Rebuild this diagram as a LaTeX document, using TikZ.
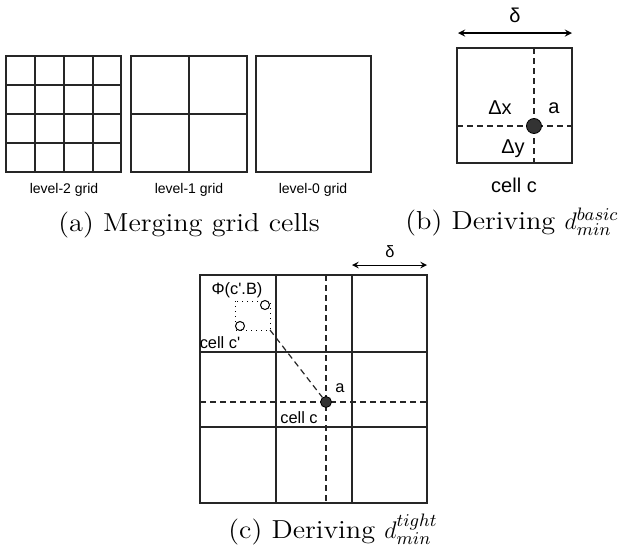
\documentclass[tikz,border=0pt]{standalone}
\usepackage{fontspec}
\newfontfamily\lblfont{Liberation Sans}
\newfontfamily\capfont[FakeStretch=1.09]{Latin Modern Roman}
\usetikzlibrary{calc}

\tikzset{
    gridline/.style={draw=black!85, line width=0.6pt},
    splitline/.style={draw=black!85, line width=0.6pt, dash pattern=on 3pt off 2pt},
    pointdot/.style={circle, fill=black!80, draw=black, inner sep=0pt},
    hollowdot/.style={circle, fill=white, draw=black, line width=0.5pt, inner sep=0pt, minimum size=4.5pt},
    caption/.style={font=\capfont\fontsize{13}{15}\selectfont, anchor=base west, inner sep=0pt},
    smalllbl/.style={font=\lblfont\fontsize{7}{8}\selectfont},
    midlbl/.style={font=\lblfont\fontsize{10}{12}\selectfont},
    celllbl/.style={font=\lblfont\fontsize{8.2}{10}\selectfont, inner sep=1pt}
}

\begin{document}
\begin{tikzpicture}[x=0.5pt,y=-0.5pt,>=stealth]
            \useasboundingbox (0,0) rectangle (622,552);

            % (a) level-2, level-1, level-0 grids
            \draw[gridline] (6,56) rectangle (121,172);
            \foreach \gx in {35,64,93}
                \draw[gridline] (\gx,56) -- (\gx,172);
            \foreach \gy in {85,114,143}
                \draw[gridline] (6,\gy) -- (121,\gy);

            \draw[gridline] (131,56) rectangle (247,172);
            \draw[gridline] (189,56) -- (189,172);
            \draw[gridline] (131,114) -- (247,114);

            \draw[gridline] (256,56) rectangle (371,172);

            \node[smalllbl] (lvl2) at (64,190) {level-2 grid};
            \node[smalllbl] (lvl1) at (189,190) {level-1 grid};
            \node[smalllbl] (lvl0) at (313,190) {level-0 grid};

            \node[caption] (capa) at (58,231) {(a) Merging grid cells};

            % (b) one cell with point a
            \draw[gridline] (457,48) rectangle (572,163);
            \coordinate (bT) at (534,48);
            \coordinate (bB) at (534,163);
            \coordinate (bL) at (457,126);
            \coordinate (bR) at (572,126);
            \draw[splitline] (bT) -- (bB);
            \draw[splitline] (bL) -- (bR);
            \node[pointdot, minimum size=7.5pt] (ptb) at (534,126) {};

            \coordinate (dbL) at (458,33);
            \coordinate (dbR) at (572,33);
            \draw[<->, line width=0.6pt] (dbL) -- (dbR);
            \node[midlbl] (deltab) at (515,15) {δ};
            \node[midlbl] (dxb) at (500,108) {Δx};
            \node[midlbl] (ab) at (554,108) {a};
            \node[midlbl] (dyb) at (513,149) {Δy};
            \node[midlbl] (cellb) at (514,185) {cell c};

            \node[caption] (capb) at (405,229) {(b) Deriving $d^{basic}_{min}$};

            % (c) neighbourhood of cell c
            \draw[gridline] (200,275) rectangle (427,503);
            \foreach \gx in {276,352}
                \draw[gridline] (\gx,275) -- (\gx,503);
            \foreach \gy in {352,427}
                \draw[gridline] (200,\gy) -- (427,\gy);

            \coordinate (cT) at (326,275);
            \coordinate (cB) at (326,503);
            \coordinate (cL) at (200,402);
            \coordinate (cR) at (427,402);
            \draw[splitline] (cT) -- (cB);
            \draw[splitline] (cL) -- (cR);

            \draw[black, line width=0.5pt, dotted] (235,301) rectangle (270,330);
            \coordinate (boxcorner) at (270,330);
            \node[hollowdot] (bp1) at (265,305) {};
            \node[hollowdot] (bp2) at (240,326) {};

            \node[pointdot, minimum size=5.5pt] (ptc) at (326,402) {};
            \draw[splitline] (boxcorner) -- (ptc);

            \coordinate (dcL) at (352,265);
            \coordinate (dcR) at (427,265);
            \draw[<->, line width=0.5pt] (dcL) -- (dcR);
            \node[celllbl] (deltac) at (390,252) {δ};

            \node[celllbl] (phic) at (237,290) {Φ(c'.B)};
            \node[celllbl] (cellcp) at (220,343) {cell c'};
            \node[celllbl] (ac) at (340,388) {a};
            \node[celllbl] (cellc) at (299,418) {cell c};

            \node[caption] (capc) at (228,538) {(c) Deriving $d^{tight}_{min}$};
        \end{tikzpicture}
\end{document}
